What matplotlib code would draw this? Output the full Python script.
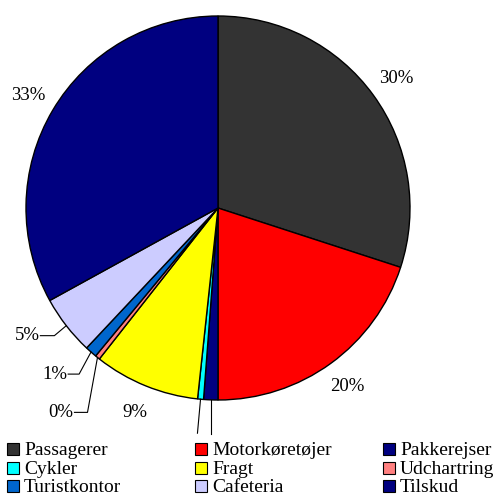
import numpy as np
import matplotlib.pyplot as plt
import matplotlib.patches as mpatches

plt.rcParams["font.family"] = ["Liberation Serif", "DejaVu Serif"]

# -----------------------------------------------------------------------------
# Data
# -----------------------------------------------------------------------------
categories = ["Passagerer", "Motorkøretøjer", "Pakkerejser", "Cykler", "Fragt",
              "Udchartring", "Turistkontor", "Cafeteria", "Tilskud"]
shares = [30.0, 20.0, 1.2, 0.5, 8.9, 0.4, 1.0, 5.0, 33.0]
colors = ["#333333", "#ff0000", "#000080", "#00ffff", "#ffff00",
          "#ff8080", "#0066cc", "#ccccff", "#000080"]

# label placement: plain label outside the slice, or a leader line
# (elbow dx, elbow dy, horizontal run) in pie radii
leaders = {
    "Pakkerejser": (0.0, -0.177, 0.0),
    "Cykler": (-0.016, -0.177, 0.0),
    "Udchartring": (-0.052, -0.286, 0.068),
    "Turistkontor": (-0.062, -0.115, 0.057),
    "Cafeteria": (-0.062, -0.052, 0.073),
}
hidden_labels = {"Pakkerejser", "Cykler"}   # labels sit under the legend

W, H = 495, 496
fig = plt.figure(figsize=(W / 100, H / 100), dpi=100)

# pie: centre (218, 208) px, radius 192 px
cx, cy, r = 218, 208, 192
ax = fig.add_axes([(cx - r) / W, (H - cy - r) / H, 2 * r / W, 2 * r / H])
wedges, _ = ax.pie(shares, colors=colors, startangle=90, counterclock=False,
                   wedgeprops=dict(edgecolor="black", linewidth=1.0))
ax.set_xlim(-1, 1)
ax.set_ylim(-1, 1)
ax.axis("off")

total = sum(shares)
fs = 13.5
for w, name, v in zip(wedges, categories, shares):
    mid = np.deg2rad((w.theta1 + w.theta2) / 2)
    ex, ey = np.cos(mid), np.sin(mid)
    pct = f"{round(100 * v / total):.0f}%"
    if name in leaders:
        dx, dy, run = leaders[name]
        bx, by = ex + dx, ey + dy
        ax.plot([ex, bx, bx - run], [ey, by, by], color="black", lw=0.8,
                clip_on=False)
        if name not in hidden_labels:
            ax.text(bx - run - 0.005, by, pct, ha="right", va="center",
                    fontsize=fs, clip_on=False)
    else:
        ax.text(1.15 * ex, 1.15 * ey, pct, ha="center", va="center",
                fontsize=fs, clip_on=False)

# -----------------------------------------------------------------------------
# Legend (row-major, fixed column width)
# -----------------------------------------------------------------------------
col_x = [7, 195, 383]
row_base = [455, 474, 492]
sq = 12
for i, (name, c) in enumerate(zip(categories, colors)):
    row, col = divmod(i, 3)
    x0, yb = col_x[col], row_base[row]
    fig.patches.append(mpatches.Rectangle(
        (x0 / W, 1 - yb / H), sq / W, sq / H, transform=fig.transFigure,
        facecolor=c, edgecolor="black", lw=0.8))
    fig.text((x0 + 17) / W, 1 - yb / H, name, ha="left", va="baseline",
             fontsize=14.0)

fig.savefig("out.png", dpi=100)
